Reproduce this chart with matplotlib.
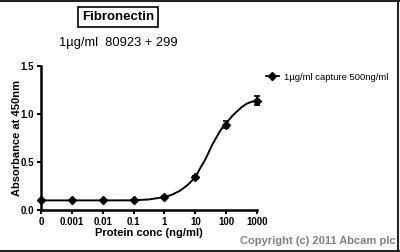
import numpy as np
import matplotlib
matplotlib.use("Agg")
import matplotlib.pyplot as plt
from matplotlib.lines import Line2D

plt.rcParams['font.family'] = ['Liberation Sans', 'DejaVu Sans']

# ---- data ----
conc_labels = ['0', '0.001', '0.01', '0.1', '1', '10', '100', '1000']
conc_values = [0, 0.001, 0.01, 0.1, 1, 10, 100, 1000]
absorbance = [0.10, 0.10, 0.10, 0.10, 0.135, 0.34, 0.89, 1.14]
abs_err = [0.005, 0.005, 0.005, 0.005, 0.01, 0.015, 0.04, 0.05]
zero_pos = 1e-4  # where "0" sits on the log axis

# fitted curve (log10 concentration, absorbance)
curve_logc = [-4, -3, -2, -1, -0.5, 0, 0.25, 0.5, 0.75, 1.0, 1.15, 1.33,
              1.55, 1.76, 1.9, 2.04, 2.2, 2.36, 2.5, 2.68, 2.85, 3.0]
curve_abs = [0.10, 0.10, 0.10, 0.101, 0.11, 0.135, 0.16, 0.20, 0.26, 0.34,
             0.43, 0.53, 0.68, 0.80, 0.87, 0.92, 0.98, 1.03, 1.07, 1.11,
             1.13, 1.14]

title = 'Fibronectin'
subtitle = '1µg/ml  80923 + 299'
legend_label = '1µg/ml capture 500ng/ml'
ylabel = 'Absorbance at 450nm'
xlabel = 'Protein conc (ng/ml)'
copyright_text = 'Copyright (c) 2011 Abcam plc'

W, H = 400, 252
fig = plt.figure(figsize=(W / 100, H / 100), dpi=100)
ax_w_px = 257 - 41
ax = fig.add_axes([41 / W, 1 - 210 / H, ax_w_px / W, (210 - 66) / H])

xpos = [zero_pos if c == 0 else c for c in conc_values]
curve_x = [10 ** v for v in curve_logc]

ax.plot(curve_x, curve_abs, color='black', lw=1.4, clip_on=False, zorder=3)
ax.errorbar(xpos, absorbance, yerr=abs_err, fmt='D', color='black', ms=4.5,
            capsize=2.2, elinewidth=1.2, capthick=1.2, clip_on=False, zorder=4)

ax.set_xscale('log')
ax.set_xlim(zero_pos, 1000)
ax.set_ylim(0, 1.5)
ax.set_xticks(xpos)
ax.set_xticklabels(conc_labels)
ax.xaxis.set_minor_locator(matplotlib.ticker.NullLocator())
ax.set_yticks([0, 0.5, 1.0, 1.5])
ax.set_yticklabels(['0.0', '0.5', '1.0', '1.5'])

for s in ['top', 'right']:
    ax.spines[s].set_visible(False)
for s in ['left', 'bottom']:
    ax.spines[s].set_linewidth(1.8)
ax.tick_params(direction='out', length=3, width=1.5, pad=2, labelsize=7)
for lab in ax.get_xticklabels() + ax.get_yticklabels():
    lab.set_fontweight('bold')

ax.set_xlabel(xlabel, fontsize=8, fontweight='bold', labelpad=1)
ax.set_ylabel(ylabel, fontsize=8, fontweight='bold', va='center')
ax.yaxis.set_label_coords((17 - 41) / ax_w_px, 0.5)

# title box
fig.text(118 / W, 1 - 17 / H, title, ha='center', va='center', fontsize=9.5,
         fontweight='bold',
         bbox=dict(boxstyle='square,pad=0.3', fc='white', ec='black', lw=1.2))
fig.text(118 / W, 1 - 43 / H, subtitle, ha='center', va='center', fontsize=9.3)

# legend
h = Line2D([], [], color='black', marker='D', ms=4, lw=1.3)
fig.legend([h], [legend_label], loc='center left',
           bbox_to_anchor=(262 / W, 1 - 77 / H), frameon=False, fontsize=6.8,
           handlelength=1.4, handletextpad=0.5, borderaxespad=0)

fig.text(396 / W, 1 - 241 / H, copyright_text, ha='right', va='center',
         fontsize=8, fontweight='bold', color='#808080')

# image frame (top, right, bottom)
frame_kw = dict(color='#222222', lw=1.5, transform=fig.transFigure)
fig.add_artist(Line2D([0, 1], [1 - 0.7 / H, 1 - 0.7 / H], **frame_kw))
fig.add_artist(Line2D([398 / W, 398 / W], [0, 1], **frame_kw))
fig.add_artist(Line2D([0, 1], [1 - 251 / H, 1 - 251 / H], **frame_kw))

fig.savefig('out.png', dpi=100)
